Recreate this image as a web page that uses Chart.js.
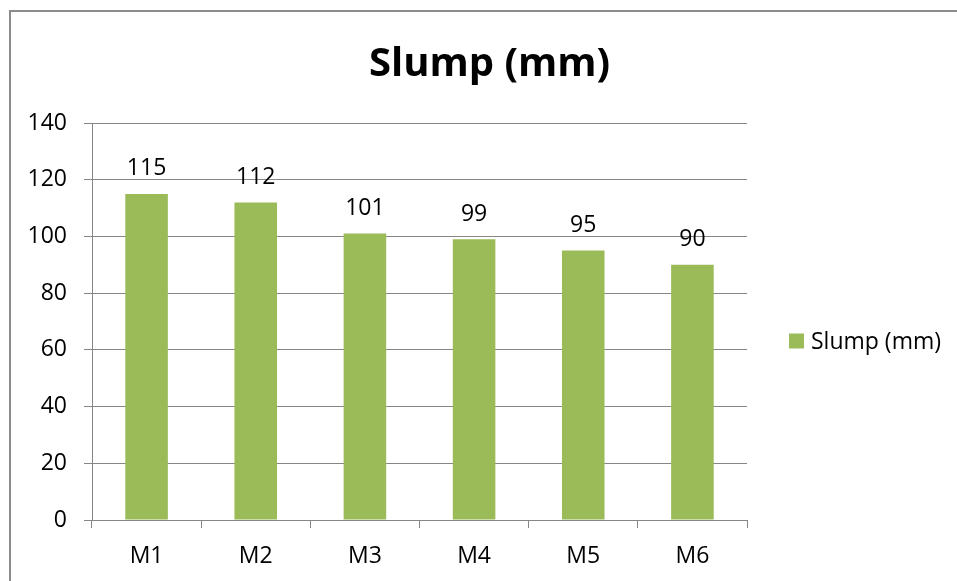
<!DOCTYPE html>
<html>
<head>
<meta charset="utf-8">
<script src="https://cdn.jsdelivr.net/npm/chart.js@4"></script>
<style>
  html, body { margin: 0; padding: 0; background: #fff; overflow: hidden; }
  #frame { position: absolute; left: 9px; top: 10px; width: 2000px; height: 2000px;
           border-left: 2px solid #8c8c8c; border-top: 2px solid #8c8c8c; box-sizing: border-box; }
  #c { position: absolute; left: 0; top: 0; }
</style>
</head>
<body>
<div id="frame"></div>
<canvas id="c" width="957" height="581"></canvas>
<script>
const categories = ['M1', 'M2', 'M3', 'M4', 'M5', 'M6'];
const slumpValues = [115, 112, 101, 99, 95, 90];
const seriesName = 'Slump (mm)';
const chartTitle = 'Slump (mm)';

const FONT = "'Open Sans', 'Liberation Sans', sans-serif";
const GRID = '#868686';
const BAR = '#9BBB59';

const valueLabels = {
  id: 'valueLabels',
  afterDatasetsDraw(chart) {
    const ctx = chart.ctx;
    const meta = chart.getDatasetMeta(0);
    ctx.save();
    ctx.font = '23px ' + FONT;
    ctx.fillStyle = '#000';
    ctx.textAlign = 'center';
    ctx.textBaseline = 'alphabetic';
    meta.data.forEach((bar, i) => {
      ctx.fillText(String(chart.data.datasets[0].data[i]), bar.x, bar.y - 18.5);
    });
    ctx.restore();
  }
};

const sideLegend = {
  id: 'sideLegend',
  afterDraw(chart) {
    const ctx = chart.ctx;
    const ds = chart.data.datasets[0];
    const area = chart.chartArea;
    const x = area.right + 42;
    const y = 341;
    ctx.save();
    ctx.fillStyle = ds.backgroundColor;
    ctx.fillRect(x, y - 7.5, 15, 15);
    ctx.font = '23px ' + FONT;
    ctx.fillStyle = '#000';
    ctx.textAlign = 'left';
    ctx.textBaseline = 'middle';
    ctx.fillText(ds.label, x + 22, y + 1);
    ctx.restore();
  }
};

new Chart(document.getElementById('c'), {
  type: 'bar',
  data: {
    labels: categories,
    datasets: [{
      label: seriesName,
      data: slumpValues,
      backgroundColor: BAR,
      borderWidth: 0,
      categoryPercentage: 1.0,
      barPercentage: 0.39
    }]
  },
  options: {
    responsive: false,
    devicePixelRatio: 1,
    animation: false,
    layout: { padding: { left: 22, right: 0, top: 0, bottom: 0 } },
    plugins: {
      legend: { display: false },
      tooltip: { enabled: false },
      title: {
        display: true,
        text: chartTitle,
        color: '#000',
        font: { family: FONT, size: 40, weight: 'bold', lineHeight: 1.2 },
        padding: { top: 41, bottom: 34 }
      }
    },
    scales: {
      x: {
        grid: { display: true, drawOnChartArea: false, drawTicks: true, tickLength: 8, color: GRID, offset: true },
        border: { display: true, color: GRID, width: 1 },
        ticks: { color: '#000', font: { family: FONT, size: 23 }, padding: 15 },
        afterFit: s => { s.height = 61; }
      },
      y: {
        min: 0, max: 140,
        grid: { color: GRID, lineWidth: 1, tickLength: 8, drawTicks: true },
        border: { display: true, color: GRID, width: 1 },
        ticks: { stepSize: 20, color: '#000', font: { family: FONT, size: 23 }, padding: 17 },
        afterFit: s => { s.width = 70; }
      },
      yRight: {
        position: 'right',
        display: true,
        grid: { display: false, drawTicks: false },
        border: { display: false },
        ticks: { display: false },
        afterFit: s => { s.width = 210; }
      }
    }
  },
  plugins: [valueLabels, sideLegend]
});
</script>
</body>
</html>
